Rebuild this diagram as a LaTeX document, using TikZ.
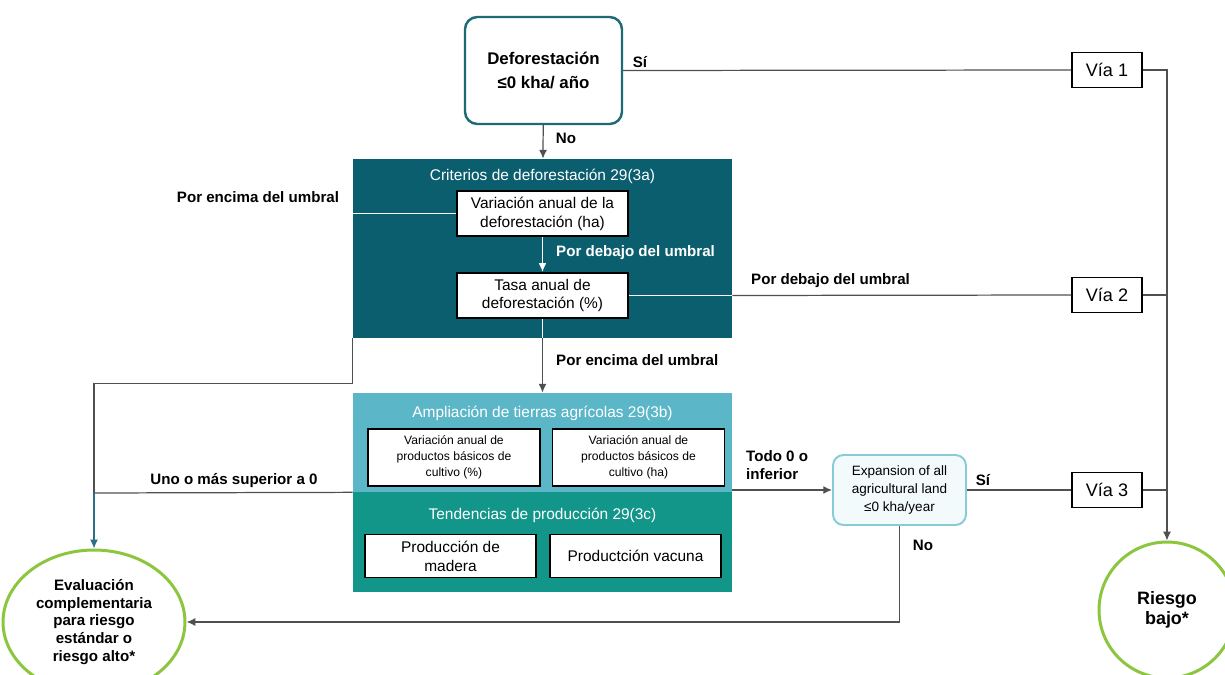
\documentclass[tikz,border=0pt]{standalone}
\usepackage{fontspec}
\setmainfont{Liberation Sans}
\usetikzlibrary{shapes.geometric, arrows.meta, positioning}
\definecolor{critteal}{HTML}{0B5E6E}
\definecolor{ampteal}{HTML}{5BB6C8}
\definecolor{tendteal}{HTML}{12968A}
\definecolor{defoteal}{HTML}{1E6B75}
\definecolor{expblue}{HTML}{86CBD6}
\definecolor{expfill}{HTML}{F3FAFB}
\definecolor{riskgreen}{HTML}{8CC63E}
\definecolor{linegray}{HTML}{505050}
\definecolor{evalblue}{HTML}{2D6F88}
\tikzset{
    startbox/.style={rectangle, rounded corners=7pt, draw=defoteal, line width=1.4pt, fill=white, minimum width=3.14cm, minimum height=2.14cm, align=center, font=\fontsize{9.6}{13.6}\selectfont\bfseries},
    groupbox/.style={rectangle, minimum width=7.58cm, inner sep=0pt},
    grouptitle/.style={text=white, font=\fontsize{8.8}{10.5}\selectfont},
    critbox/.style={rectangle, draw=black, line width=1.1pt, fill=white, minimum width=3.42cm, minimum height=0.86cm, align=center, font=\fontsize{8.8}{10.8}\selectfont},
    smallbox/.style={critbox, minimum width=3.44cm, minimum height=1.14cm, font=\fontsize{6.9}{9}\selectfont},
    viabox/.style={rectangle, draw=black, line width=1.1pt, fill=white, minimum width=1.4cm, minimum height=0.7cm, font=\fontsize{10.3}{12}\selectfont},
    checkbox/.style={rectangle, rounded corners=6pt, draw=expblue, line width=1.1pt, fill=expfill, minimum width=2.66cm, minimum height=1.4cm, align=center, font=\fontsize{7.7}{10}\selectfont},
    outcome/.style={draw=riskgreen, line width=1.7pt, fill=white, align=center, inner sep=0pt},
    lbl/.style={font=\fontsize{8.6}{10.3}\selectfont\bfseries, align=left},
    conn/.style={draw=linegray, line width=0.7pt},
    whiteconn/.style={draw=white, line width=0.9pt},
    evalconn/.style={draw=evalblue, line width=0.8pt},
    endtip/.style={-{Latex[length=5pt,width=4.5pt]}}
}

\begin{document}
\begin{tikzpicture}[x=0.02cm, y=-0.02cm]
    \useasboundingbox (0,0) rectangle (1225,675);

    % Start question
    \node[startbox] (defo) at (543.5,70.5) {Deforestación\\≤0 kha/ año};

    % Deforestation criteria 29(3a)
    \node[groupbox, fill=critteal, minimum height=3.58cm] (crit) at (542.5,248.5) {};
    \node[grouptitle] (crit_title) at (542.5,176) {Criterios de deforestación 29(3a)};
    \node[critbox] (var_def) at (542.5,213.5) {Variación anual de la\\deforestación (ha)};
    \node[critbox] (tasa_def) at (542.5,295.5) {Tasa anual de\\deforestación (\%)};

    % Agricultural land expansion 29(3b)
    \node[groupbox, fill=ampteal, minimum height=1.98cm] (amp) at (542.5,442.5) {};
    \node[grouptitle] (amp_title) at (542.5,413) {Ampliación de tierras agrícolas 29(3b)};
    \node[smallbox] (var_pct) at (454,457.5) {Variación anual de\\productos básicos de\\cultivo (\%)};
    \node[smallbox] (var_ha) at (638.5,457.5) {Variación anual de\\productos básicos de\\cultivo (ha)};

    % Production trends 29(3c)
    \node[groupbox, fill=tendteal, minimum height=2cm] (tend) at (542.5,542) {};
    \node[grouptitle] (tend_title) at (542.5,515) {Tendencias de producción 29(3c)};
    \node[critbox] (madera) at (450.5,556) {Producción de\\madera};
    \node[critbox] (vacuna) at (635.5,556) {Productción vacuna};

    % Second check, pathways and outcomes
    \node[checkbox] (exp) at (899.5,490) {Expansion of all\\agricultural land\\ ≤0 kha/year};
    \node[viabox] (via1) at (1107,70) {Vía 1};
    \node[viabox] (via2) at (1107,295) {Vía 2};
    \node[viabox] (via3) at (1107,490) {Vía 3};
    \node[outcome, circle, minimum size=2.72cm, font=\fontsize{10.2}{11.6}\selectfont\bfseries] (low) at (1167,610) {Riesgo\\bajo*};
    \node[outcome, ellipse, minimum width=3.64cm, minimum height=2.88cm, font=\fontsize{8.6}{10.2}\selectfont\bfseries] (eval) at (94,622) {Evaluación\\complementaria\\para riesgo\\estándar o\\riesgo alto*};
    \coordinate (join) at (94,493);

    % Lines
    \draw[conn, endtip] (defo) -- (crit);
    \node[lbl] at (566,138) {No};
    \draw[conn] (defo.east) -- (via1.west);
    \node[lbl] at (640,62) {Sí};

    \draw[whiteconn, endtip] (var_def) -- (tasa_def);
    \node[lbl, text=white, anchor=west] at (550,253) {Por debajo del umbral};
    \draw[whiteconn] (var_def.west) -- (var_def.west -| crit.west);
    \node[lbl] at (258,197) {Por encima del umbral};
    \draw[conn] (crit.south west) -- ++(0,45) -| (join);
    \draw[conn] (amp.south west) -- (join);
    \node[lbl] at (234,481) {Uno o más superior a 0};
    \draw[evalconn, endtip] (join) -- (eval);

    \draw[whiteconn] (tasa_def.east) -- (tasa_def.east -| crit.east);
    \draw[conn] (tasa_def.east -| crit.east) -- (via2.west);
    \node[lbl, anchor=west] at (745,281) {Por debajo del umbral};
    \draw[whiteconn] (tasa_def.south) -- (tasa_def.south |- crit.south);
    \draw[conn, endtip] (tasa_def.south |- crit.south) -- (tasa_def.south |- amp.north);
    \node[lbl, anchor=west] at (550,360) {Por encima del umbral};

    \draw[conn, endtip] (amp.east |- exp.west) -- (exp.west);
    \node[lbl, anchor=west] at (740,465) {Todo 0 o\\inferior};
    \draw[conn] (exp.east) -- (via3.west);
    \node[lbl] at (983,480) {Sí};
    \draw[conn, endtip] (exp.south) |- (eval.east);
    \node[lbl] at (923,545) {No};

    \draw[conn, endtip] (via1.east) -| (low.north);
    \draw[conn] (via2.east) -- (via2.east -| low.north);
    \draw[conn] (via3.east) -- (via3.east -| low.north);
\end{tikzpicture}
\end{document}
